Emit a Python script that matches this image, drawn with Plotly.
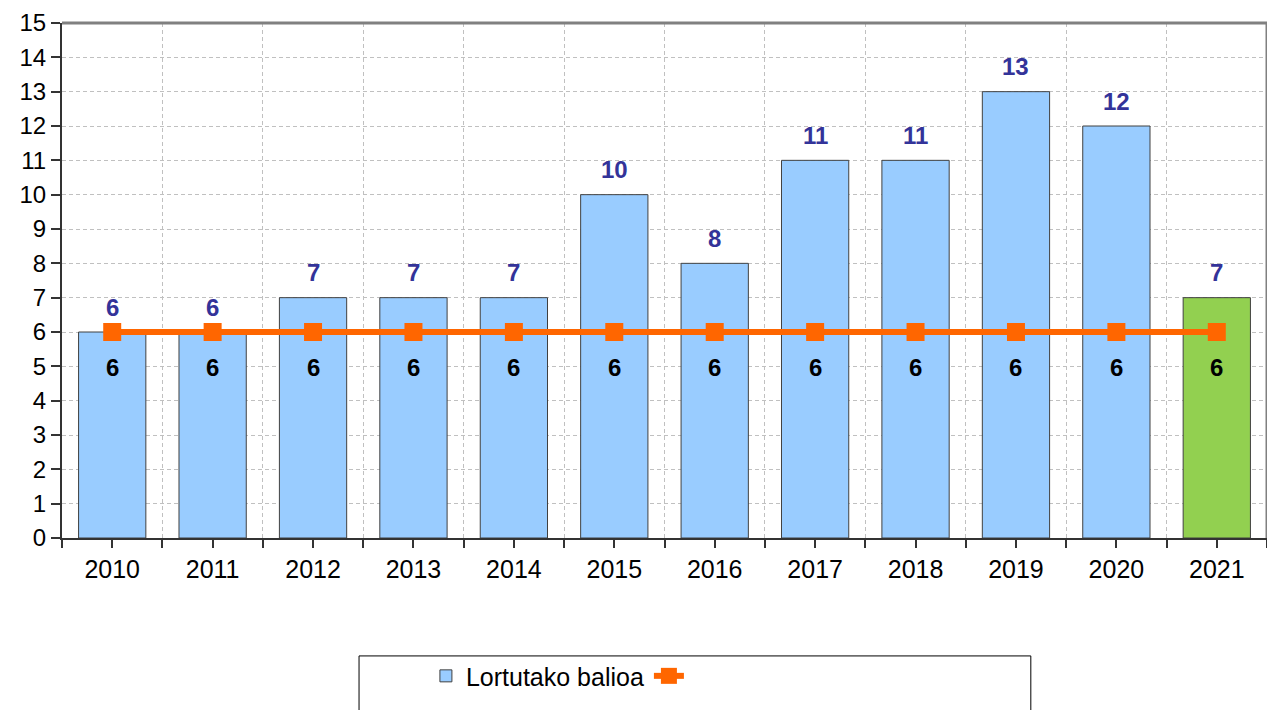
import plotly.graph_objects as go

years = ["2010", "2011", "2012", "2013", "2014", "2015", "2016", "2017", "2018", "2019", "2020", "2021"]
obtained = [6, 6, 7, 7, 7, 10, 8, 11, 11, 13, 12, 7]
target = [6, 6, 6, 6, 6, 6, 6, 6, 6, 6, 6, 6]
bar_colors = ["#99CCFF"] * 11 + ["#92D050"]
y_ticks = list(range(0, 16))

FONT = "Arial, Liberation Sans, sans-serif"
xs = list(range(len(years)))

fig = go.Figure()
fig.add_trace(go.Bar(
    x=xs, y=obtained, name="Lortutako balioa", width=0.67,
    marker=dict(color=bar_colors, line=dict(color="#404040", width=1)),
    showlegend=True,
))
fig.add_trace(go.Scatter(
    x=xs, y=target, name="", mode="lines+markers",
    line=dict(color="#FF6600", width=6),
    marker=dict(symbol="square", size=18, color="#FF6600"),
))

annotations = []
for xi, v in zip(xs, obtained):
    annotations.append(dict(x=xi, y=v, text=f"<b>{v}</b>", showarrow=False,
                            yshift=25, font=dict(family=FONT, size=24, color="#333399")))
for xi, v in zip(xs, target):
    annotations.append(dict(x=xi, y=v, text=f"<b>{v}</b>", showarrow=False,
                            yshift=-35, font=dict(family=FONT, size=24, color="#000000")))

# page body has an 8px default margin, so the figure is sized/offset to compensate
fig.update_layout(
    width=1267, height=702,
    margin=dict(l=54, r=8, t=15, b=172),
    paper_bgcolor="white", plot_bgcolor="white",
    font=dict(family=FONT, size=22, color="#000000"),
    annotations=annotations,
    showlegend=True,
    legend=dict(orientation="h", x=0.302, xanchor="left", y=-0.2235, yanchor="top",
                font=dict(family=FONT, size=25, color="#000000"),
                bgcolor="rgba(0,0,0,0)", borderwidth=0),
    shapes=[
        dict(type="rect", xref="paper", yref="paper", x0=0.2465, x1=0.804, y0=-0.229, y1=-0.40,
             line=dict(color="#000000", width=1), fillcolor="rgba(0,0,0,0)", layer="below"),
        dict(type="line", xref="paper", yref="paper", x0=0, x1=1, y0=1, y1=1,
             line=dict(color="#808080", width=3), layer="above"),
        dict(type="line", xref="paper", yref="paper", x0=1, x1=1, y0=0, y1=1,
             line=dict(color="#808080", width=3), layer="above"),
    ],
)

GRID_DASH = "4px,3px"
fig.update_xaxes(
    range=[-0.5, 11.5], tickvals=xs, ticktext=years, automargin=False,
    showgrid=False, zeroline=False,
    showline=True, linecolor="#333333", linewidth=2,
    ticks="outside", ticklen=8, tickcolor="#333333", tickwidth=2,
    tickfont=dict(family=FONT, size=25, color="#000000"),
    minor=dict(tickvals=[i - 0.5 for i in range(len(years) + 1)], ticks="outside",
               ticklen=8, tickcolor="#333333", tickwidth=2,
               showgrid=True, gridcolor="#C0C0C0", griddash=GRID_DASH, gridwidth=1),
)
fig.update_yaxes(
    range=[0, 15], tickvals=y_ticks, automargin=False,
    showgrid=True, gridcolor="#C0C0C0", griddash=GRID_DASH, gridwidth=1,
    zeroline=False, showline=True, linecolor="#333333", linewidth=2,
    ticks="outside", ticklen=9, tickcolor="#333333", tickwidth=2,
    tickfont=dict(family=FONT, size=24, color="#000000"),
)

fig.write_html("out.html")
